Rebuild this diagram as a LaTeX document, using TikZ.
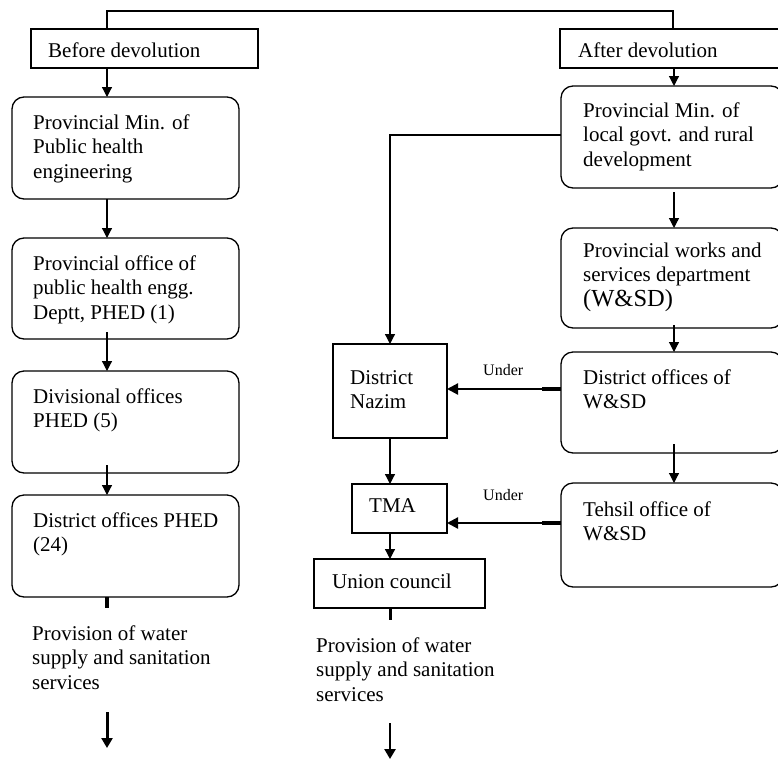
\documentclass[tikz,border=0pt]{standalone}
\usepackage{fontspec}
\setmainfont{Liberation Serif}
\usetikzlibrary{arrows.meta}
\begin{document}
\begin{tikzpicture}[x=1pt,y=-1pt,
  rbox/.style={draw, line width=1.3pt, rounded corners=12pt, anchor=north west, inner sep=0pt, outer sep=0pt},
  sbox/.style={draw, line width=1.3pt, anchor=north west, inner sep=0pt, outer sep=0pt},
  txt/.style={anchor=north west, inner sep=0pt, align=left, font=\fontsize{21}{24.5}\selectfont},
  ln/.style={anchor=base west, inner sep=0pt, font=\fontsize{21}{24.5}\selectfont},
  undertxt/.style={anchor=base west, inner sep=0pt, font=\fontsize{16}{19}\selectfont},
  conn/.style={line width=1.2pt, -{Triangle[width=10pt,length=10pt]}},
  uarr/.style={line width=2.2pt, -{Triangle[width=11pt,length=11pt]}},
  stub/.style={line width=3.5pt},
  barr/.style={line width=3pt, -{Triangle[width=11pt,length=10pt]}}]
\useasboundingbox (0,0) rectangle (778,758);
\clip (0,0) rectangle (778,758);

% helper coordinates
\coordinate (ax) at (107,0);
\coordinate (rx) at (674,0);
\coordinate (mx) at (390,0);
\coordinate (tl) at (107,11);
\coordinate (tr) at (673,11);

% top boxes
\node[sbox, minimum width=227pt, minimum height=39pt] (before) at (31,29) {};
\node[sbox, minimum width=240pt, minimum height=39pt] (after) at (560,29) {};
\node[ln] (tbefore) at (48,57) {Before devolution};
\node[ln] (tafter) at (578,57) {After devolution};

% left column
\node[rbox, minimum width=227pt, minimum height=102pt] (L1) at (12,97) {};
\node[rbox, minimum width=227pt, minimum height=101pt] (L2) at (12,238) {};
\node[rbox, minimum width=227pt, minimum height=102pt] (L3) at (12,371) {};
\node[rbox, minimum width=227pt, minimum height=102pt] (L4) at (12,495) {};
\node[txt] (tL1) at (33,111.85) {\strut Provincial Min. of\\Public health\\engineering};
\node[txt] (tL2) at (33,252.85) {\strut Provincial office of\\public health engg.\\Deptt, PHED (1)};
\node[txt] (tL3) at (33,385.85) {\strut Divisional offices\\PHED (5)};
\node[txt] (tL4) at (33,509.85) {\strut District offices PHED\\(24)};

% right column
\node[rbox, minimum width=222pt, minimum height=102pt] (R1) at (561,86) {};
\node[rbox, minimum width=222pt, minimum height=100pt] (R2) at (561,228) {};
\node[rbox, minimum width=222pt, minimum height=101pt] (R3) at (561,352) {};
\node[rbox, minimum width=222pt, minimum height=104pt] (R4) at (561,483) {};
\node[txt] (tR1) at (583,99.85) {\strut Provincial Min. of\\local govt. and rural\\development};
\node[txt] (tR2) at (583,239.85) {\strut Provincial works and\\services department\\{\fontsize{24.5}{28}\selectfont (W\&SD)}};
\node[txt] (tR3) at (583,366.85) {\strut District offices of\\W\&SD};
\node[txt] (tR4) at (583,498.85) {\strut Tehsil office of\\W\&SD};

% middle column
\node[sbox, minimum width=114pt, minimum height=94pt] (DN) at (333,344) {};
\node[sbox, minimum width=95pt, minimum height=49pt] (TMA) at (352,484) {};
\node[sbox, minimum width=171pt, minimum height=49pt] (UC) at (314,559) {};
\node[txt] (tDN) at (350,366.85) {\strut District\\Nazim};
\node[ln] (tTMA) at (369,512) {TMA};
\node[ln] (tUC) at (332,588) {Union council};
\node[undertxt] (under1) at (483,375) {Under};
\node[undertxt] (under2) at (483,500) {Under};

% bottom texts
\node[txt] (provL) at (32,622.85) {\strut Provision of water\\supply and sanitation\\services};
\node[txt] (provR) at (316,634.85) {\strut Provision of water\\supply and sanitation\\services};

% top bracket
\draw[line width=1.2pt] (before.north -| tl) -- (tl) -- (tr) -- (after.north -| tr);

% left connectors
\draw[conn] (before.south -| ax) -- (L1.north -| ax);
\draw[conn] (L1.south -| ax) -- (L2.north -| ax);
\draw[conn, shorten <=-7pt] (L2.south -| ax) -- (L3.north -| ax);
\draw[conn, shorten <=-8pt] (L3.south -| ax) -- (L4.north -| ax);

% right connectors
\draw[conn] (after.south -| rx) -- (R1.north -| rx);
\draw[conn, shorten <=4pt] (R1.south -| rx) -- (R2.north -| rx);
\draw[conn, shorten <=-3pt] (R2.south -| rx) -- (R3.north -| rx);
\draw[conn, shorten <=-9pt] (R3.south -| rx) -- (R4.north -| rx);

% middle connectors
\coordinate (r1y) at (0,135);
\draw[conn] (R1.west |- r1y) -| (DN.north);
\draw[conn] (DN.south) -- (TMA.north -| mx);
\draw[conn] (TMA.south -| mx) -- (UC.north -| mx);

% under arrows
\coordinate (u1) at (0,389);
\coordinate (u2) at (0,523);
\draw[uarr] (R3.west |- u1) -- (DN.east |- u1);
\draw[stub] (R3.west |- u1) -- ++(-19,0);
\draw[uarr] (R4.west |- u2) -- (TMA.east |- u2);
\draw[stub] (R4.west |- u2) -- ++(-19,0);

% bottom stubs and arrows
\coordinate (ls) at (107,608);
\coordinate (la1) at (107,712);
\coordinate (la2) at (107,748);
\draw[stub] (L4.south -| ls) -- (ls);
\draw[barr] (la1) -- (la2);
\coordinate (rs) at (390,620);
\coordinate (ra1) at (390,723);
\coordinate (ra2) at (390,759);
\draw[stub, line width=3pt] (UC.south -| rs) -- (rs);
\draw[barr, line width=2.6pt] (ra1) -- (ra2);
\end{tikzpicture}
\end{document}
